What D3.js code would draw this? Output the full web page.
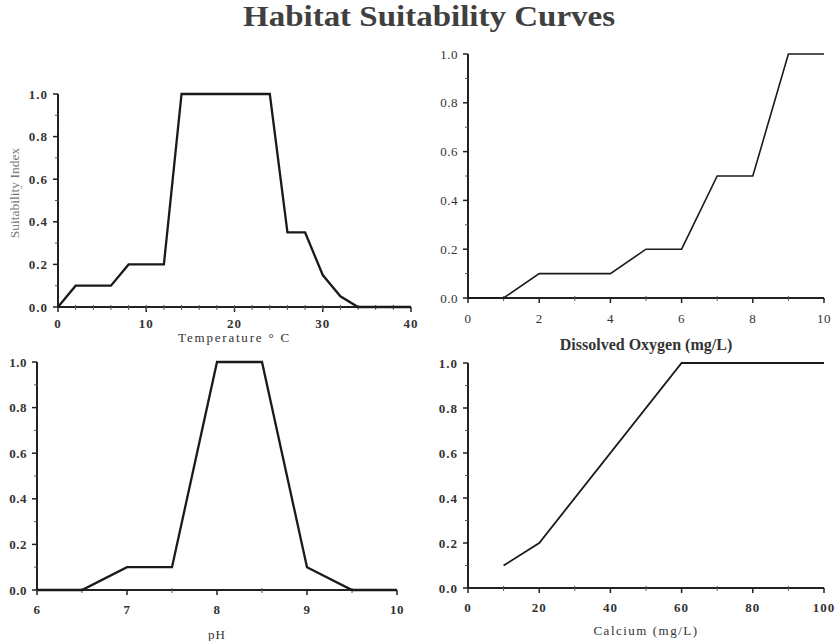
<!DOCTYPE html>
<html lang="en">
<head>
    <meta charset="UTF-8">
    <title>Habitat Suitability Curves</title>
    <script src="https://d3js.org/d3.v7.min.js"></script>
    <style>
        body { margin: 0; background: #fff; }
        text { font-family: "Liberation Serif", "Times New Roman", serif; }
    </style>
</head>
<body>
<div id="chart"></div>
<script>

// ---- data ----
const tempX = [0, 2, 6, 8, 12, 14, 24, 26, 28, 30, 32, 34, 40]
const tempY = [0, 0.1, 0.1, 0.2, 0.2, 1, 1, 0.35, 0.35, 0.15, 0.05, 0, 0]

const doX = [0, 1, 2, 4, 5, 6, 7, 8, 9, 10]
const doY = [0, 0, 0.1, 0.1, 0.2, 0.2, 0.5, 0.5, 1, 1]

const phX = [6, 6.5, 7, 7.5, 8, 8.5, 9, 9.5, 10]
const phY = [0, 0, 0.1, 0.1, 1, 1, 0.1, 0, 0]

const caX = [10, 20, 60, 100]
const caY = [0.1, 0.2, 1, 1]

const yTicks = [0, 0.2, 0.4, 0.6, 0.8, 1.0]
const yMinor = [0.1, 0.3, 0.5, 0.7, 0.9]

const width = 835, height = 641

const svg = d3.select("#chart").append("svg")
    .attr("width", width)
    .attr("height", height)

svg.append("text")
    .attr("x", 243).attr("y", 26)
    .attr("font-size", 29)
    .attr("font-weight", "bold")
    .attr("fill", "#404040")
    .attr("textLength", 372)
    .attr("lengthAdjust", "spacingAndGlyphs")
    .text("Habitat Suitability Curves")

// one panel per parameter
const panels = [
    { xs: tempX, ys: tempY, dom: [0, 40], ticks: [0, 10, 20, 30, 40], minor: d3.range(2, 40, 2),
      box: [58, 411, 94, 307], lw: 2.3, lab: 16, title: "Temperature ° C", tBase: 342, tSize: 13,
      tBold: false, tSpace: 1.8, tickBold: true, tickSpace: 1, yTitle: true },
    { xs: doX, ys: doY, dom: [0, 10], ticks: [0, 2, 4, 6, 8, 10], minor: [1, 3, 5, 7, 9],
      box: [468, 824, 54, 298], lw: 1.6, lab: 20, title: "Dissolved Oxygen (mg/L)", tBase: 350, tSize: 16,
      tBold: true, tSpace: 0, tickBold: false, tickSpace: 0.5 },
    { xs: phX, ys: phY, dom: [6, 10], ticks: [6, 7, 8, 9, 10], minor: [6.5, 7.5, 8.5, 9.5],
      box: [37, 397, 362, 590], lw: 2.3, lab: 19, title: "pH", tBase: 639, tSize: 13,
      tBold: false, tSpace: 1, tickBold: true, tickSpace: 0.5 },
    { xs: caX, ys: caY, dom: [0, 100], ticks: [0, 20, 40, 60, 80, 100], minor: [10, 30, 50, 70, 90],
      box: [468, 824, 363, 588], lw: 1.8, lab: 19, title: "Calcium (mg/L)", tBase: 635, tSize: 13,
      tBold: false, tSpace: 1.5, tickBold: true, tickSpace: 1 }
]

panels.forEach(function(p) {
    const [l, r, t, b] = p.box
    const x = d3.scaleLinear().domain(p.dom).range([l, r])
    const y = d3.scaleLinear().domain([0, 1]).range([b, t])
    const g = svg.append("g")

    // axes
    g.append("line").attr("x1", l).attr("x2", l).attr("y1", t).attr("y2", b)
        .attr("stroke", "#222").attr("stroke-width", 2)
    g.append("line").attr("x1", l).attr("x2", r).attr("y1", b).attr("y2", b)
        .attr("stroke", "#222").attr("stroke-width", 2)

    // y ticks
    g.selectAll(".yt").data(yTicks).enter().append("line")
        .attr("x1", l - 5).attr("x2", l)
        .attr("y1", d => y(d)).attr("y2", d => y(d))
        .attr("stroke", "#222").attr("stroke-width", 1.5)
    g.selectAll(".ym").data(yMinor).enter().append("line")
        .attr("x1", l - 3).attr("x2", l)
        .attr("y1", d => y(d)).attr("y2", d => y(d))
        .attr("stroke", "#555").attr("stroke-width", 1)
    g.selectAll(".yl").data(yTicks).enter().append("text")
        .attr("x", l - 10).attr("y", d => y(d) + 4.5)
        .attr("text-anchor", "end")
        .attr("font-size", 13)
        .attr("font-weight", p.tickBold ? "bold" : "normal")
        .attr("letter-spacing", p.tickSpace)
        .attr("fill", "#333")
        .text(d => d3.format(".1f")(d))

    // x ticks
    g.selectAll(".xt").data(p.ticks).enter().append("line")
        .attr("x1", d => x(d)).attr("x2", d => x(d))
        .attr("y1", b).attr("y2", b + 5)
        .attr("stroke", "#222").attr("stroke-width", 1.5)
    g.selectAll(".xm").data(p.minor).enter().append("line")
        .attr("x1", d => x(d)).attr("x2", d => x(d))
        .attr("y1", b - 2).attr("y2", b + 3)
        .attr("stroke", "#555").attr("stroke-width", 1)
    g.selectAll(".xl").data(p.ticks).enter().append("text")
        .attr("x", d => x(d)).attr("y", b + p.lab + 4.5)
        .attr("text-anchor", "middle")
        .attr("font-size", 13)
        .attr("font-weight", p.tickBold ? "bold" : "normal")
        .attr("letter-spacing", p.tickSpace)
        .attr("fill", "#333")
        .text(d => d)

    // axis title
    g.append("text")
        .attr("x", (l + r) / 2).attr("y", p.tBase)
        .attr("text-anchor", "middle")
        .attr("font-size", p.tSize)
        .attr("font-weight", p.tBold ? "bold" : "normal")
        .attr("letter-spacing", p.tSpace)
        .attr("fill", "#333")
        .text(p.title)

    if (p.yTitle) {
        g.append("text")
            .attr("transform", "translate(19,193) rotate(-90)")
            .attr("text-anchor", "middle")
            .attr("font-size", 13.5)
            .attr("fill", "#777")
            .text("Suitability Index")
    }

    // curve
    const pts = p.xs.map((v, i) => [v, p.ys[i]])
    g.append("path")
        .datum(pts)
        .attr("d", d3.line().x(d => x(d[0])).y(d => y(d[1])))
        .attr("fill", "none")
        .attr("stroke", "#1a1a1a")
        .attr("stroke-width", p.lw)
        .attr("stroke-linejoin", "miter")
})

</script>
</body>
</html>
